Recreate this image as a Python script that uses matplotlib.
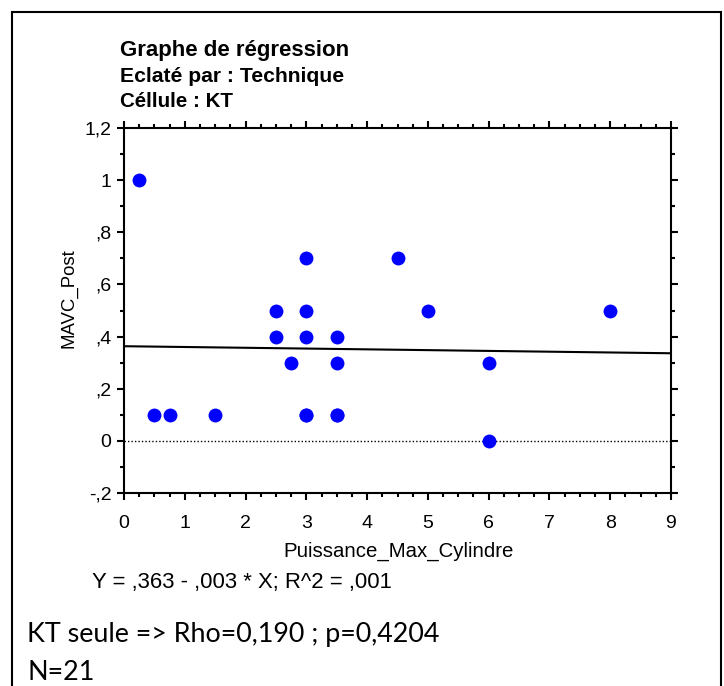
# Graphe de regression - KT
import numpy as np
import matplotlib.pyplot as plt
from matplotlib.patches import Rectangle
from matplotlib.ticker import MultipleLocator, FixedLocator

# Data
puissance = [0.25, 0.5, 0.75, 1.5, 2.5, 2.5, 2.75, 3, 3, 3, 3, 3,
             3.5, 3.5, 3.5, 3.5, 4.5, 5, 6, 6, 8]
mavc_post = [1.0, 0.1, 0.1, 0.1, 0.5, 0.4, 0.3, 0.7, 0.5, 0.4, 0.1, 0.1,
             0.4, 0.3, 0.1, 0.1, 0.7, 0.5, 0.3, 0.0, 0.5]
intercept = 0.363
slope = -0.003
x_ticks = [0, 1, 2, 3, 4, 5, 6, 7, 8, 9]
y_ticks = [-0.2, 0, 0.2, 0.4, 0.6, 0.8, 1.0, 1.2]
y_tick_labels = ['-,2', '0', ',2', ',4', ',6', ',8', '1', '1,2']

plt.rcParams['font.family'] = ['Liberation Sans', 'DejaVu Sans']

W, H = 724, 686
fig = plt.figure(figsize=(W / 100, H / 100), dpi=100)
ax = fig.add_axes([124 / W, 1 - 493 / H, (671 - 124) / W, (493 - 128) / H])

# regression line and zero reference
xl = np.array([0, 9])
ax.plot(xl, intercept + slope * xl, color='black', lw=1.5, zorder=2)
ax.axhline(0, color='black', lw=1, ls=(0, (1, 1.5)), zorder=1)
ax.scatter(puissance, mavc_post, s=100, color='#0000ff', zorder=3, linewidths=0)

ax.set_xlim(0, 9)
ax.set_ylim(-0.2, 1.2)
ax.xaxis.set_major_locator(FixedLocator(x_ticks))
ax.xaxis.set_minor_locator(MultipleLocator(0.25))
ax.yaxis.set_major_locator(FixedLocator(y_ticks))
ax.yaxis.set_minor_locator(MultipleLocator(0.1))
ax.set_yticklabels(y_tick_labels)
ax.tick_params(which='both', direction='out', top=True, right=True,
               labeltop=False, labelright=False, width=1.5, labelsize=14)
ax.tick_params(which='major', length=5)
ax.tick_params(which='minor', length=3)
ax.tick_params(axis='x', which='major', pad=11)
ax.tick_params(axis='y', which='major', pad=4)
for s in ax.spines.values():
    s.set_linewidth(1.5)

renderer = fig.canvas.get_renderer()


def put(x, y, txt, width, vertical=False, **kw):
    # place text at pixel coords and scale it to the width seen in the picture
    t = fig.text(x / W, 1 - y / H, txt, **kw)
    ext = t.get_window_extent(renderer)
    size = ext.height if vertical else ext.width
    t.set_fontsize(t.get_fontsize() * width / size)
    return t


# titles
put(120, 56, 'Graphe de régression', 231, fontsize=14, weight='bold', va='baseline')
put(120, 82, 'Eclaté par : Technique', 225, fontsize=14, weight='bold', va='baseline')
put(120, 107, 'Céllule : KT', 113, fontsize=14, weight='bold', va='baseline')

# axis labels
put(399, 557, 'Puissance_Max_Cylindre', 232, fontsize=14, ha='center', va='baseline')
put(69, 298, 'MAVC_Post', 100, vertical=True, fontsize=13, rotation=90,
    ha='center', va='center')

put(92, 588, 'Y = ,363 - ,003 * X; R^2 = ,001', 300, fontsize=14, va='baseline')

kt = put(27, 642, 'KT seule => Rho=0,190 ; p=0,4204', 414, fontsize=18,
         family=['Lato', 'DejaVu Sans'], va='baseline')
fig.text(27 / W, 1 - 680 / H, 'N=21', fontsize=kt.get_fontsize(),
         family=['Lato', 'DejaVu Sans'], va='baseline')

# outer frame
fig.patches.append(Rectangle((12 / W, -0.05), (721 - 12) / W, 1.05 - 12 / H,
                             transform=fig.transFigure, fill=False, lw=1.5,
                             edgecolor='black', clip_on=False))

fig.savefig('out.png', dpi=100)
